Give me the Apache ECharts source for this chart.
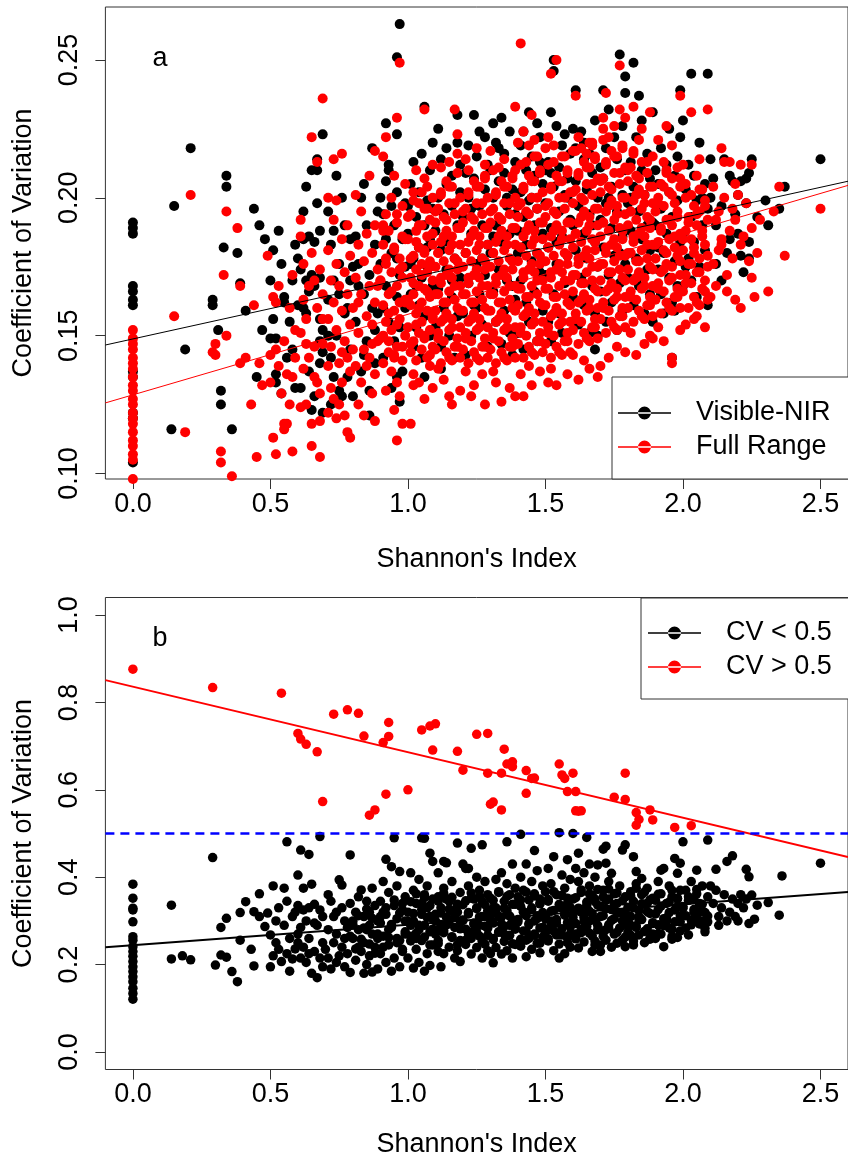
<!DOCTYPE html>
<html><head><meta charset="utf-8">
<script src="https://cdn.jsdelivr.net/npm/echarts@6/dist/echarts.min.js"></script>
<style>html,body{margin:0;padding:0;background:#fff}#c{width:848px;height:1162px}</style>
</head><body><div id="c"></div>
<script>
// ---------- tick labels ----------
const xTicks = [0, 0.5, 1.0, 1.5, 2.0, 2.5];
const yTicksA = [0.10, 0.15, 0.20, 0.25];
const yTicksB = [0.0, 0.2, 0.4, 0.6, 0.8, 1.0];
const legendA = ['Visible-NIR', 'Full Range'];
const legendB = ['CV < 0.5', 'CV > 0.5'];

// ---------- panel a : Visible-NIR (black) [Shannon, CV] ----------
const vnirA = [
[0,.191],[0,.189],[0,.187],[0,.168],[0,.166],[0,.163],[0,.161],[0,.137],[0,.135],[0,.122],[0,.12],[0,.104],
[.15,.197],[.21,.218],[.14,.116],[.19,.145],[.34,.208],[.34,.204],[.33,.182],[.38,.18],[.51,.181],[.39,.169],[.29,.163],[.29,.161],[.41,.159],[.5,.17],[.31,.152],[.47,.152],[.32,.13],[.32,.125],[.45,.135],[.36,.116],[.46,.19],[.48,.185],[.44,.196],
[.52,.136],[.52,.133],[.54,.129],[.59,.131],[.55,.162],[.55,.164],[.5,.149],[.52,.149],[.57,.155],[.58,.17],[.54,.176],[.59,.183],[.56,.142],[.51,.156],[.53,.188],[.58,.145],
[.65,.123],[.69,.122],[.6,.178],[.61,.174],[.63,.17],[.64,.166],[.65,.172],[.66,.168],[.68,.171],[.62,.16],[.63,.158],[.6,.161],[.68,.156],[.69,.152],[.68,.148],[.69,.144],[.68,.14],[.67,.21],[.65,.21],[.63,.204],[.69,.223],[.67,.214],[.62,.185],[.64,.186],[.66,.184],[.68,.188],[.64,.137],[.61,.131],[.66,.128],[.67,.198],[.62,.195],
[.74,.208],[.76,.2],[.73,.188],[.72,.183],[.75,.176],[.79,.17],[.71,.163],[.77,.158],[.74,.15],[.72,.142],[.78,.135],[.76,.128],[.73,.135],[.79,.185],[.71,.195],[.77,.19],[.75,.165],[.79,.145],[.71,.15],[.73,.17],[.78,.16],[.75,.13],[.72,.125],
[.87,.218],[.83,.2],[.85,.19],[.81,.186],[.88,.183],[.82,.176],[.86,.172],[.84,.165],[.89,.158],[.81,.155],[.85,.148],[.88,.14],[.83,.137],[.86,.13],[.8,.128],[.89,.195],[.84,.205],[.82,.168],[.87,.16],[.8,.175],[.88,.152],[.84,.143],[.86,.121],
[.97,.263],[.96,.251],[.92,.227],[.96,.223],[.93,.212],[.93,.21],[.96,.202],[.92,.206],[.99,.198],[.91,.194],[.95,.19],[.98,.185],[.94,.18],[.9,.176],[.97,.172],[.92,.168],[.96,.164],[.99,.16],[.93,.155],[.95,.148],[.91,.142],[.98,.137],[.94,.131],[.97,.126],[.92,.185],[.99,.175],[.9,.2],[.96,.178],[.91,.16],[.97,.153],[.94,.197],[.96,.135],
[1.06,.233],[1.05,.216],[1.02,.213],[1.08,.21],[1.01,.205],[1.04,.202],[1.07,.199],[1.09,.196],[1.03,.193],[1.06,.19],[1.0,.187],[1.08,.185],[1.04,.182],[1.02,.178],[1.07,.175],[1.05,.171],[1.09,.168],[1.01,.165],[1.04,.161],[1.06,.157],[1.03,.153],[1.08,.15],[1.02,.146],[1.05,.142],[1.09,.22],[1.0,.197],[1.07,.182],[1.03,.168],[1.06,.135],[1.01,.176],
[1.18,.23],[1.18,.22],[1.16,.208],[1.12,.214],[1.14,.205],[1.19,.202],[1.11,.2],[1.16,.197],[1.13,.194],[1.18,.19],[1.1,.188],[1.15,.185],[1.12,.181],[1.17,.178],[1.14,.174],[1.19,.171],[1.11,.167],[1.16,.164],[1.13,.16],[1.18,.157],[1.1,.153],[1.15,.15],[1.12,.146],[1.17,.142],[1.14,.218],[1.11,.225],[1.19,.212],[1.13,.184],[1.16,.17],[1.12,.138],
[1.24,.23],[1.31,.227],[1.28,.222],[1.22,.219],[1.25,.215],[1.29,.212],[1.21,.209],[1.24,.207],[1.28,.203],[1.22,.2],[1.26,.197],[1.2,.193],[1.27,.19],[1.23,.187],[1.29,.183],[1.21,.18],[1.25,.176],[1.28,.172],[1.22,.169],[1.26,.165],[1.24,.161],[1.2,.158],[1.27,.154],[1.23,.15],[1.29,.146],[1.21,.143],[1.26,.224],[1.23,.196],[1.27,.178],[1.25,.16],
[1.34,.229],[1.37,.224],[1.32,.22],[1.35,.216],[1.39,.213],[1.3,.21],[1.35,.209],[1.33,.206],[1.38,.203],[1.31,.2],[1.36,.197],[1.39,.194],[1.32,.19],[1.37,.187],[1.34,.184],[1.3,.18],[1.38,.177],[1.33,.174],[1.36,.17],[1.31,.166],[1.39,.163],[1.35,.159],[1.32,.155],[1.37,.151],[1.34,.147],[1.38,.143],[1.33,.218],[1.36,.2],[1.31,.186],[1.38,.168],
[1.44,.231],[1.42,.224],[1.47,.227],[1.41,.219],[1.45,.215],[1.48,.213],[1.43,.21],[1.46,.208],[1.49,.205],[1.41,.202],[1.44,.199],[1.47,.196],[1.42,.193],[1.46,.19],[1.49,.187],[1.43,.183],[1.4,.18],[1.45,.177],[1.48,.173],[1.41,.17],[1.46,.166],[1.43,.162],[1.49,.159],[1.44,.155],[1.4,.151],[1.47,.148],[1.42,.145],[1.48,.222],[1.45,.2],[1.4,.188],[1.47,.18],
[1.53,.25],[1.53,.246],[1.61,.239],[1.52,.231],[1.54,.226],[1.57,.223],[1.5,.21],[1.52,.209],[1.56,.219],[1.59,.216],[1.51,.213],[1.55,.211],[1.58,.207],[1.53,.204],[1.57,.201],[1.5,.198],[1.55,.195],[1.59,.192],[1.52,.189],[1.56,.186],[1.51,.182],[1.58,.179],[1.54,.176],[1.5,.172],[1.57,.169],[1.53,.165],[1.59,.162],[1.55,.158],[1.51,.155],[1.56,.151],[1.52,.148],[1.58,.2],[1.54,.184],[1.6,.225],
[1.64,.22],[1.66,.216],[1.64,.214],[1.7,.211],[1.68,.228],[1.63,.224],[1.67,.209],[1.61,.206],[1.65,.203],[1.69,.2],[1.62,.197],[1.66,.194],[1.6,.19],[1.64,.187],[1.68,.184],[1.61,.181],[1.65,.178],[1.69,.175],[1.63,.171],[1.67,.168],[1.6,.164],[1.64,.161],[1.68,.158],[1.62,.154],[1.66,.151],[1.68,.145],[1.69,.15],[1.61,.218],[1.67,.19],
[1.77,.252],[1.79,.244],[1.71,.239],[1.79,.238],[1.73,.232],[1.78,.226],[1.75,.222],[1.72,.218],[1.76,.214],[1.79,.21],[1.71,.207],[1.74,.204],[1.78,.201],[1.72,.198],[1.76,.195],[1.7,.192],[1.74,.189],[1.78,.186],[1.71,.182],[1.75,.179],[1.79,.176],[1.73,.172],[1.77,.169],[1.7,.166],[1.74,.162],[1.78,.159],[1.72,.155],[1.76,.152],[1.73,.2],[1.77,.18],
[1.82,.249],[1.84,.237],[1.89,.231],[1.85,.228],[1.83,.222],[1.87,.216],[1.81,.213],[1.85,.21],[1.88,.207],[1.82,.204],[1.86,.201],[1.8,.198],[1.84,.195],[1.89,.191],[1.81,.188],[1.85,.185],[1.88,.181],[1.83,.178],[1.87,.174],[1.8,.171],[1.84,.168],[1.88,.165],[1.82,.161],[1.86,.158],[1.89,.155],[1.81,.2],[1.87,.19],[1.83,.17],
[1.99,.239],[1.95,.225],[1.99,.222],[1.92,.218],[1.9,.21],[1.94,.212],[1.97,.208],[1.91,.205],[1.95,.202],[1.98,.199],[1.92,.196],[1.96,.193],[1.9,.19],[1.94,.187],[1.99,.184],[1.93,.18],[1.97,.177],[1.91,.174],[1.95,.171],[1.98,.168],[1.92,.165],[1.96,.162],[1.97,.159],[1.96,.142],[1.93,.158],[1.98,.215],[1.91,.182],
[2.03,.245],[2.09,.245],[2.0,.228],[2.06,.22],[2.02,.212],[2.08,.205],[2.04,.208],[2.01,.203],[2.05,.199],[2.09,.196],[2.03,.193],[2.07,.19],[2.0,.187],[2.04,.184],[2.08,.181],[2.02,.178],[2.06,.175],[2.03,.17],[2.0,.168],[2.05,.164],[2.09,.161],[2.01,.175],[2.07,.2],
[2.1,.214],[2.15,.214],[2.25,.214],[2.17,.208],[2.18,.206],[2.21,.206],[2.23,.207],[2.24,.209],[2.1,.2],[2.14,.197],[2.2,.201],[2.23,.198],[2.37,.204],[2.35,.196],[2.31,.19],[2.5,.214],[2.2,.187],[2.17,.185],[2.24,.184],[2.12,.19],[2.27,.193],[2.3,.199],[2.21,.179],[2.24,.178],[2.14,.17],[2.12,.176],[2.16,.18],[2.11,.207],[2.19,.194],[2.22,.173]
];

// ---------- panel a : Full Range (red) ----------
const fullA = [
[0,.152],[0,.149],[0,.147],[0,.145],[0,.142],[0,.14],[0,.138],[0,.135],[0,.132],[0,.13],[0,.127],[0,.125],[0,.122],[0,.12],[0,.118],[0,.115],[0,.112],[0,.11],[0,.107],[0,.105],[0,.098],
[.15,.157],[.19,.115],[.21,.201],[.33,.172],[.34,.195],[.34,.15],[.3,.147],[.29,.144],[.3,.143],[.32,.108],[.32,.104],[.36,.099],[.38,.189],[.39,.168],[.39,.14],[.41,.142],[.44,.161],[.43,.125],[.45,.106],[.46,.14],[.47,.132],[.49,.179],[.5,.143],[.5,.133],
[.51,.113],[.55,.116],[.55,.118],[.56,.118],[.52,.107],[.58,.108],[.54,.129],[.56,.136],[.58,.135],[.59,.152],[.52,.145],[.57,.16],[.53,.168],[.58,.172],[.55,.148],[.51,.164],[.52,.162],[.59,.142],[.57,.125],[.53,.139],
[.61,.124],[.63,.125],[.65,.118],[.68,.119],[.65,.11],[.68,.106],[.61,.151],[.62,.138],[.64,.142],[.66,.146],[.69,.147],[.67,.133],[.66,.135],[.63,.156],[.67,.16],[.69,.165],[.66,.17],[.68,.174],[.64,.168],[.62,.176],[.61,.192],[.61,.186],[.65,.222],[.67,.213],[.69,.236],[.65,.18],[.69,.156],[.63,.147],[.68,.129],[.62,.163],
[.73,.127],[.75,.125],[.74,.12],[.72,.131],[.76,.133],[.78,.115],[.79,.113],[.71,.139],[.75,.14],[.78,.142],[.72,.146],[.77,.148],[.74,.152],[.79,.154],[.71,.156],[.76,.159],[.73,.162],[.78,.165],[.75,.168],[.72,.17],[.77,.173],[.74,.176],[.79,.179],[.71,.181],[.76,.185],[.74,.199],[.71,.2],[.73,.214],[.76,.216],[.78,.19],[.73,.192],[.77,.121],[.71,.122],[.79,.137],[.76,.144],
[.84,.121],[.88,.119],[.82,.125],[.87,.129],[.83,.133],[.88,.136],[.81,.139],[.86,.142],[.84,.145],[.89,.148],[.82,.151],[.87,.154],[.85,.157],[.8,.16],[.88,.162],[.83,.165],[.86,.168],[.81,.171],[.89,.174],[.84,.177],[.87,.18],[.82,.183],[.85,.187],[.88,.19],[.83,.195],[.88,.217],[.86,.208],[.81,.201],[.89,.168],[.8,.145],[.85,.139],[.82,.162],[.87,.147],
[.96,.112],[.98,.118],[.95,.123],[.97,.128],[.96,.133],[.92,.13],[.94,.137],[.91,.14],[.98,.141],[.93,.144],[.96,.146],[.9,.149],[.99,.15],[.94,.152],[.92,.155],[.97,.156],[.95,.159],[.91,.161],[.99,.163],[.93,.165],[.96,.168],[.9,.17],[.98,.171],[.94,.173],[.92,.176],[.97,.178],[.95,.181],[.91,.183],[.99,.185],[.93,.188],[.96,.191],[.92,.194],[.98,.197],[.94,.2],[.92,.222],[.96,.229],[.97,.249],[.95,.208],[.99,.205],[.91,.215],[.97,.162],[.93,.148],[.95,.143],[.98,.175],[.91,.188],
[.95,.142],[.98,.146],[.91,.15],[.96,.154],[.93,.158],[.99,.162],[.94,.166],[.9,.17],[.97,.174],[.92,.178],[.95,.182],[.98,.186],[.91,.19],[.96,.194],
[1.02,.136],[1.04,.133],[1.02,.132],[1.08,.139],[1.01,.118],[1.06,.127],[1.09,.131],
[1.03,.141],[1.07,.142],[1.01,.144],[1.05,.145],[1.09,.146],[1.02,.148],[1.06,.149],[1.04,.151],[1.08,.152],[1.0,.153],[1.05,.155],[1.09,.156],[1.03,.158],[1.07,.159],[1.01,.161],[1.05,.162],[1.08,.164],[1.02,.165],[1.06,.167],[1.04,.168],[1.09,.17],[1.01,.171],[1.07,.173],[1.03,.174],[1.05,.176],[1.08,.177],[1.02,.179],[1.06,.18],[1.04,.182],[1.09,.183],[1.0,.185],[1.07,.186],[1.03,.188],[1.05,.19],[1.08,.192],[1.01,.194],[1.06,.196],[1.04,.198],[1.09,.2],[1.02,.202],[1.07,.204],
[1.08,.143],[1.01,.147],[1.06,.15],[1.03,.154],[1.09,.157],[1.04,.16],[1.0,.163],[1.07,.166],[1.02,.169],[1.05,.172],[1.08,.175],[1.01,.178],[1.06,.181],[1.03,.184],[1.09,.187],[1.04,.19],[1.0,.193],[1.07,.196],[1.02,.199],[1.05,.202],
[1.06,.232],[1.06,.207],[1.09,.212],[1.03,.21],
[1.15,.128],[1.16,.125],[1.19,.13],[1.11,.138],[1.13,.134],
[1.12,.14],[1.16,.141],[1.19,.142],[1.14,.144],[1.1,.145],[1.17,.146],[1.13,.148],[1.18,.149],[1.11,.151],[1.15,.152],[1.19,.153],[1.12,.155],[1.16,.156],[1.14,.158],[1.1,.159],[1.18,.16],[1.13,.162],[1.17,.163],[1.11,.165],[1.15,.166],[1.19,.168],[1.12,.169],[1.16,.171],[1.14,.172],[1.18,.174],[1.1,.175],[1.13,.177],[1.17,.178],[1.11,.18],[1.15,.181],[1.19,.183],[1.12,.184],[1.16,.186],[1.14,.188],[1.18,.189],[1.1,.191],[1.13,.193],[1.17,.194],[1.11,.196],[1.15,.198],[1.19,.2],[1.12,.202],[1.16,.204],[1.14,.206],
[1.15,.142],[1.18,.146],[1.11,.149],[1.16,.153],[1.13,.156],[1.19,.159],[1.14,.162],[1.1,.165],[1.17,.168],[1.12,.171],[1.15,.174],[1.18,.177],[1.11,.18],[1.16,.183],[1.13,.186],[1.19,.189],[1.14,.192],[1.1,.195],[1.17,.198],[1.12,.201],[1.15,.204],
[1.12,.211],[1.17,.232],[1.18,.223],[1.18,.209],[1.18,.216],[1.15,.213],
[1.24,.132],[1.28,.125],[1.23,.128],[1.27,.136],[1.21,.137],
[1.22,.14],[1.26,.141],[1.29,.142],[1.24,.144],[1.2,.145],[1.27,.146],[1.23,.148],[1.28,.149],[1.21,.151],[1.25,.152],[1.29,.153],[1.22,.155],[1.26,.156],[1.24,.158],[1.2,.159],[1.28,.16],[1.23,.162],[1.27,.163],[1.21,.165],[1.25,.166],[1.29,.168],[1.22,.169],[1.26,.171],[1.24,.172],[1.28,.174],[1.2,.175],[1.23,.177],[1.27,.178],[1.21,.18],[1.25,.181],[1.29,.183],[1.22,.184],[1.26,.186],[1.24,.188],[1.28,.189],[1.2,.191],[1.23,.193],[1.27,.194],[1.21,.196],[1.25,.198],[1.29,.2],[1.22,.202],[1.26,.204],[1.24,.206],[1.28,.208],
[1.25,.142],[1.28,.146],[1.21,.149],[1.26,.153],[1.23,.156],[1.29,.159],[1.24,.162],[1.2,.165],[1.27,.168],[1.22,.171],[1.25,.174],[1.28,.177],[1.21,.18],[1.26,.183],[1.23,.186],[1.29,.189],[1.24,.192],[1.2,.195],[1.27,.198],[1.22,.201],[1.25,.204],[1.28,.207],
[1.21,.214],[1.25,.218],[1.28,.212],[1.22,.21],[1.3,.217],
[1.34,.126],[1.32,.133],[1.37,.131],[1.39,.128],[1.31,.137],
[1.32,.14],[1.36,.141],[1.39,.142],[1.34,.144],[1.3,.145],[1.37,.146],[1.33,.148],[1.38,.149],[1.31,.151],[1.35,.152],[1.39,.153],[1.32,.155],[1.36,.156],[1.34,.158],[1.3,.159],[1.38,.16],[1.33,.162],[1.37,.163],[1.31,.165],[1.35,.166],[1.39,.168],[1.32,.169],[1.36,.171],[1.34,.172],[1.38,.174],[1.3,.175],[1.33,.177],[1.37,.178],[1.31,.18],[1.35,.181],[1.39,.183],[1.32,.184],[1.36,.186],[1.34,.188],[1.38,.189],[1.3,.191],[1.33,.193],[1.37,.194],[1.31,.196],[1.35,.198],[1.39,.2],[1.32,.202],[1.36,.204],[1.34,.206],[1.38,.208],[1.33,.211],
[1.35,.142],[1.38,.146],[1.31,.149],[1.36,.153],[1.33,.156],[1.39,.159],[1.34,.162],[1.3,.165],[1.37,.168],[1.32,.171],[1.35,.174],[1.38,.177],[1.31,.18],[1.36,.183],[1.33,.186],[1.39,.189],[1.34,.192],[1.3,.195],[1.37,.198],[1.32,.201],[1.35,.204],[1.38,.207],[1.31,.21],
[1.39,.233],[1.39,.21],[1.35,.214],
[1.42,.128],[1.41,.136],[1.45,.132],[1.48,.137],[1.44,.139],
[1.42,.142],[1.46,.143],[1.49,.144],[1.44,.146],[1.4,.147],[1.47,.148],[1.43,.15],[1.48,.151],[1.41,.153],[1.45,.154],[1.49,.155],[1.42,.157],[1.46,.158],[1.44,.16],[1.4,.161],[1.48,.162],[1.43,.164],[1.47,.165],[1.41,.167],[1.45,.168],[1.49,.17],[1.42,.171],[1.46,.173],[1.44,.174],[1.48,.176],[1.4,.177],[1.43,.179],[1.47,.18],[1.41,.182],[1.45,.183],[1.49,.185],[1.42,.186],[1.46,.188],[1.44,.19],[1.48,.191],[1.4,.193],[1.43,.195],[1.47,.196],[1.41,.198],[1.45,.2],[1.49,.202],[1.42,.204],[1.46,.206],[1.44,.208],[1.48,.21],[1.43,.213],[1.47,.215],
[1.45,.144],[1.48,.148],[1.41,.151],[1.46,.155],[1.43,.158],[1.49,.161],[1.44,.164],[1.4,.167],[1.47,.17],[1.42,.173],[1.45,.176],[1.48,.179],[1.41,.182],[1.46,.185],[1.43,.188],[1.49,.191],[1.44,.194],[1.4,.197],[1.47,.2],[1.42,.203],[1.45,.206],[1.48,.209],[1.41,.212],[1.46,.215],
[1.41,.256],[1.45,.23],[1.4,.22],[1.42,.224],[1.44,.219],[1.46,.221],
[1.51,.133],[1.54,.132],[1.58,.136],[1.52,.138],
[1.52,.142],[1.56,.143],[1.59,.144],[1.54,.146],[1.5,.147],[1.57,.148],[1.53,.15],[1.58,.151],[1.51,.153],[1.55,.154],[1.59,.155],[1.52,.157],[1.56,.158],[1.54,.16],[1.5,.161],[1.58,.162],[1.53,.164],[1.57,.165],[1.51,.167],[1.55,.168],[1.59,.17],[1.52,.171],[1.56,.173],[1.54,.174],[1.58,.176],[1.5,.177],[1.53,.179],[1.57,.18],[1.51,.182],[1.55,.183],[1.59,.185],[1.52,.186],[1.56,.188],[1.54,.19],[1.58,.191],[1.5,.193],[1.53,.195],[1.57,.196],[1.51,.198],[1.55,.2],[1.59,.202],[1.52,.204],[1.56,.206],[1.54,.208],[1.58,.21],[1.53,.213],[1.57,.215],
[1.55,.144],[1.58,.148],[1.51,.151],[1.56,.155],[1.53,.158],[1.59,.161],[1.54,.164],[1.5,.167],[1.57,.17],[1.52,.173],[1.55,.176],[1.58,.179],[1.51,.182],[1.56,.185],[1.53,.188],[1.59,.191],[1.54,.194],[1.5,.197],[1.57,.2],[1.52,.203],[1.55,.206],[1.58,.209],[1.51,.212],[1.56,.215],
[1.54,.25],[1.52,.245],[1.5,.218],[1.51,.222],[1.53,.219],[1.61,.237],[1.6,.217],
[1.62,.134],[1.66,.138],[1.69,.135],[1.64,.141],[1.6,.143],
[1.62,.147],[1.66,.148],[1.69,.149],[1.64,.151],[1.6,.152],[1.67,.153],[1.63,.155],[1.68,.156],[1.61,.158],[1.65,.159],[1.69,.16],[1.62,.162],[1.66,.163],[1.64,.165],[1.6,.166],[1.68,.167],[1.63,.169],[1.67,.17],[1.61,.172],[1.65,.173],[1.69,.175],[1.62,.176],[1.66,.178],[1.64,.179],[1.68,.181],[1.6,.182],[1.63,.184],[1.67,.185],[1.61,.187],[1.65,.188],[1.69,.19],[1.62,.191],[1.66,.193],[1.64,.195],[1.68,.196],[1.6,.198],[1.63,.2],[1.67,.201],[1.61,.203],[1.65,.205],[1.69,.207],[1.62,.209],[1.66,.211],[1.64,.213],[1.68,.215],[1.63,.218],[1.67,.22],
[1.65,.149],[1.68,.153],[1.61,.156],[1.66,.16],[1.63,.163],[1.69,.166],[1.64,.169],[1.6,.172],[1.67,.175],[1.62,.178],[1.65,.181],[1.68,.184],[1.61,.187],[1.66,.19],[1.63,.193],[1.69,.196],[1.64,.199],[1.6,.202],[1.67,.205],[1.62,.208],[1.65,.211],[1.68,.214],[1.61,.217],[1.66,.22],
[1.62,.222],[1.65,.216],[1.67,.219],[1.71,.229],[1.71,.225],[1.72,.238],
[1.7,.139],[1.73,.142],[1.76,.146],[1.79,.144],
[1.72,.151],[1.76,.152],[1.79,.153],[1.74,.155],[1.7,.156],[1.77,.157],[1.73,.159],[1.78,.16],[1.71,.162],[1.75,.163],[1.79,.164],[1.72,.166],[1.76,.167],[1.74,.169],[1.7,.17],[1.78,.171],[1.73,.173],[1.77,.174],[1.71,.176],[1.75,.177],[1.79,.179],[1.72,.18],[1.76,.182],[1.74,.183],[1.78,.185],[1.7,.186],[1.73,.188],[1.77,.189],[1.71,.191],[1.75,.192],[1.79,.194],[1.72,.195],[1.76,.197],[1.74,.199],[1.78,.2],[1.7,.202],[1.73,.204],[1.77,.205],[1.71,.207],[1.75,.209],[1.79,.211],[1.72,.213],[1.76,.215],[1.74,.217],[1.78,.219],[1.73,.222],
[1.75,.153],[1.78,.157],[1.71,.16],[1.76,.164],[1.73,.167],[1.79,.17],[1.74,.173],[1.7,.176],[1.77,.179],[1.72,.182],[1.75,.185],[1.78,.188],[1.71,.191],[1.76,.194],[1.73,.197],[1.79,.2],[1.74,.203],[1.7,.206],[1.77,.209],[1.72,.212],[1.75,.215],[1.78,.218],[1.71,.221],
[1.77,.248],[1.77,.232],[1.79,.229],[1.75,.226],
[1.83,.143],[1.86,.147],[1.89,.149],[1.88,.15],[1.81,.151],
[1.82,.155],[1.86,.156],[1.89,.157],[1.84,.159],[1.8,.16],[1.87,.161],[1.83,.163],[1.88,.164],[1.81,.166],[1.85,.167],[1.89,.168],[1.82,.17],[1.86,.171],[1.84,.173],[1.8,.174],[1.88,.175],[1.83,.177],[1.87,.178],[1.81,.18],[1.85,.181],[1.89,.183],[1.82,.184],[1.86,.186],[1.84,.187],[1.88,.189],[1.8,.19],[1.83,.192],[1.87,.193],[1.81,.195],[1.85,.196],[1.89,.198],[1.82,.199],[1.86,.201],[1.84,.203],[1.88,.204],[1.8,.206],[1.83,.208],[1.87,.209],[1.81,.211],[1.85,.213],[1.89,.215],[1.82,.217],
[1.85,.157],[1.88,.161],[1.81,.164],[1.86,.168],[1.83,.171],[1.89,.174],[1.84,.177],[1.8,.18],[1.87,.183],[1.82,.186],[1.85,.189],[1.88,.192],[1.81,.195],[1.86,.198],[1.83,.201],[1.89,.204],[1.84,.207],[1.8,.21],[1.87,.213],[1.82,.216],
[1.82,.233],[1.88,.231],[1.85,.225],[1.84,.221],
[1.96,.14],[1.96,.142],[1.93,.148],[1.99,.152],[1.91,.153],
[1.92,.158],[1.96,.159],[1.99,.16],[1.94,.162],[1.9,.163],[1.97,.164],[1.93,.166],[1.98,.167],[1.91,.169],[1.95,.17],[1.99,.172],[1.92,.173],[1.96,.175],[1.94,.176],[1.9,.178],[1.98,.179],[1.93,.181],[1.97,.182],[1.91,.184],[1.95,.185],[1.99,.187],[1.92,.188],[1.96,.19],[1.94,.192],[1.98,.193],[1.9,.195],[1.93,.197],[1.97,.198],[1.91,.2],[1.95,.202],[1.99,.204],[1.92,.205],[1.96,.207],[1.94,.209],[1.98,.211],[1.93,.213],
[1.95,.16],[1.98,.164],[1.91,.167],[1.96,.171],[1.93,.174],[1.99,.177],[1.94,.18],[1.9,.183],[1.97,.186],[1.92,.189],[1.95,.192],[1.98,.195],[1.91,.198],[1.96,.201],[1.93,.204],[1.99,.207],[1.94,.21],
[1.94,.226],[1.99,.237],[1.96,.219],[1.91,.221],
[2.01,.154],[2.04,.156],[2.08,.153],[2.05,.157],
[2.02,.16],[2.06,.161],[2.09,.163],[2.04,.164],[2.0,.166],[2.07,.167],[2.03,.169],[2.08,.17],[2.01,.172],[2.05,.173],[2.09,.175],[2.02,.176],[2.06,.178],[2.04,.18],[2.0,.181],[2.08,.183],[2.03,.185],[2.07,.186],[2.01,.188],[2.05,.19],[2.09,.192],[2.02,.193],[2.06,.195],[2.04,.197],[2.08,.199],[2.03,.201],[2.07,.203],[2.01,.205],[2.05,.208],
[2.05,.162],[2.08,.166],[2.01,.169],[2.06,.173],[2.03,.176],[2.09,.179],[2.04,.182],[2.0,.185],[2.07,.188],[2.02,.191],[2.05,.194],[2.08,.197],[2.01,.2],[2.06,.203],
[2.03,.231],[2.09,.232],[2.06,.214],[2.0,.212],
[2.14,.218],[2.15,.213],[2.17,.213],[2.14,.185],[2.14,.183],[2.19,.163],[2.21,.16],[2.12,.168],[2.16,.172],[2.11,.176],[2.18,.178],[2.13,.181],[2.17,.188],[2.12,.192],[2.18,.196],[2.15,.2],[2.11,.204],[2.19,.192],[2.16,.166],[2.13,.195],[2.19,.205],[2.1,.164],
[2.21,.212],[2.25,.212],[2.24,.177],[2.27,.18],[2.25,.171],[2.26,.164],[2.22,.186],[2.25,.189],[2.21,.183],[2.23,.198],[2.28,.192],[2.2,.201],
[2.31,.166],[2.37,.179],[2.35,.204],[2.33,.195],[2.5,.196]
];

// ---------- panel a : fitted lines (end points at the axis limits) ----------
const fitVnirA = [[-0.1, 0.1466], [2.6, 0.2060]];
const fitFullA = [[-0.1, 0.1256], [2.6, 0.2045]];

// ---------- panel b : CV < 0.5 (black) ----------
const cvLow = [
[0,.384],[0,.352],[0,.329],[0,.325],[0,.298],[0,.264],[0,.256],[0,.241],[0,.23],[0,.219],[0,.207],[0,.195],[0,.184],[0,.172],[0,.161],[0,.146],[0,.134],[0,.121],
[.14,.336],[.14,.213],[.18,.22],[.21,.211],[.29,.445],[.32,.285],[.34,.306],[.3,.199],[.32,.222],[.34,.217],[.36,.184],[.38,.161],[.39,.319],[.41,.344],[.39,.256],[.43,.235],[.44,.197],[.44,.321],[.46,.31],[.46,.362],[.48,.287],[.49,.318],[.5,.268],
[.51,.38],[.55,.375],[.56,.481],[.6,.405],[.52,.25],[.53,.235],[.51,.22],[.54,.207],[.56,.225],[.58,.213],[.59,.236],[.57,.26],[.55,.29],[.58,.31],[.53,.33],[.56,.345],[.59,.32],[.52,.3],[.5,.195],[.57,.185],[.6,.27],
[.61,.462],[.64,.452],[.62,.375],[.65,.384],[.68,.493],[.6,.335],[.62,.325],[.64,.33],[.66,.338],[.68,.325],[.69,.31],[.63,.3],[.66,.295],[.61,.285],[.67,.29],[.64,.26],[.62,.24],[.66,.23],[.68,.215],[.63,.205],[.69,.195],[.65,.18],[.67,.17],[.61,.215],[.69,.25],[.64,.225],[.6,.25],
[.75,.394],[.76,.382],[.79,.451],[.72,.345],[.74,.32],[.77,.3],[.71,.28],[.79,.265],[.73,.25],[.76,.24],[.78,.225],[.71,.215],[.74,.205],[.77,.195],[.72,.19],[.79,.182],[.75,.22],[.7,.235],[.78,.285],[.73,.31],[.76,.33],[.71,.36],[.79,.34],[.74,.27],[.77,.26],
[.83,.371],[.87,.375],[.82,.355],[.85,.345],[.88,.335],[.81,.32],[.84,.31],[.89,.3],[.86,.29],[.82,.28],[.87,.27],[.8,.26],[.84,.25],[.88,.24],[.83,.23],[.86,.22],[.81,.21],[.85,.2],[.89,.19],[.87,.183],[.84,.18],[.8,.3],[.86,.32],[.89,.26],[.82,.24],[.85,.28],
[.88,.226],[.81,.236],[.86,.247],[.83,.258],[.89,.27],[.84,.284],[.8,.291],[.87,.306],[.82,.312],[.85,.327],
[.95,.49],[.92,.441],[.94,.424],[.97,.413],[.91,.39],[.96,.38],[.93,.365],[.99,.355],[.9,.345],[.95,.335],[.98,.325],[.92,.315],[.96,.305],[.9,.295],[.94,.285],[.99,.275],[.91,.265],[.97,.255],[.93,.245],[.98,.235],[.9,.225],[.95,.215],[.92,.205],[.97,.195],[.94,.185],[.99,.3],[.91,.32],[.96,.26],[.93,.28],[.98,.34],
[.98,.23],[.91,.24],[.96,.25],[.93,.262],[.99,.27],[.94,.292],[.9,.31],[.97,.318],[.92,.33],[.95,.348],
[1.05,.49],[1.06,.489],[1.08,.455],[1.09,.436],[1.01,.41],[1.04,.395],[1.07,.38],[1.02,.37],[1.06,.36],[1.09,.35],[1.03,.34],[1.07,.33],[1.0,.32],[1.05,.315],[1.09,.305],[1.02,.3],[1.06,.29],[1.04,.28],[1.08,.275],[1.01,.265],[1.05,.255],[1.09,.245],[1.03,.235],[1.07,.225],[1.0,.215],[1.04,.205],[1.08,.198],[1.06,.185],[1.02,.192],[1.08,.31],[1.01,.29],[1.05,.34],[1.03,.26],
[1.08,.245],[1.01,.254],[1.06,.263],[1.03,.272],[1.09,.281],[1.04,.29],[1.0,.299],[1.07,.308],[1.02,.317],[1.05,.326],[1.08,.335],[1.01,.344],[1.06,.353],[1.03,.362],
[1.13,.436],[1.14,.433],[1.18,.478],[1.12,.195],[1.19,.207],[1.2,.43],[1.11,.41],[1.16,.39],[1.13,.375],[1.19,.365],[1.11,.355],[1.15,.345],[1.18,.338],[1.12,.33],[1.16,.322],[1.1,.315],[1.14,.308],[1.19,.3],[1.12,.292],[1.17,.285],[1.13,.278],[1.1,.27],[1.16,.262],[1.19,.255],[1.11,.248],[1.15,.24],[1.18,.232],[1.13,.225],[1.17,.215],[1.11,.23],[1.15,.3],[1.18,.32],[1.14,.35],[1.11,.28],
[1.18,.246],[1.11,.255],[1.16,.264],[1.13,.273],[1.19,.282],[1.14,.291],[1.1,.3],[1.17,.309],[1.12,.318],[1.15,.327],[1.18,.336],[1.11,.345],[1.16,.354],[1.13,.363],
[1.23,.466],[1.27,.474],[1.22,.42],[1.21,.42],[1.25,.4],[1.28,.39],[1.22,.38],[1.26,.37],[1.29,.36],[1.23,.352],[1.27,.344],[1.2,.337],[1.25,.33],[1.29,.323],[1.22,.316],[1.26,.309],[1.2,.302],[1.24,.295],[1.28,.288],[1.21,.281],[1.25,.274],[1.29,.267],[1.23,.26],[1.27,.253],[1.21,.246],[1.25,.239],[1.29,.232],[1.23,.224],[1.27,.215],[1.26,.29],[1.22,.27],[1.28,.31],[1.24,.35],
[1.28,.247],[1.21,.256],[1.26,.265],[1.23,.274],[1.29,.283],[1.24,.292],[1.2,.301],[1.27,.31],[1.22,.319],[1.25,.328],[1.28,.337],[1.21,.346],[1.26,.355],[1.23,.364],
[1.36,.481],[1.34,.41],[1.38,.43],[1.31,.204],[1.32,.395],[1.36,.385],[1.39,.375],[1.33,.367],[1.37,.36],[1.3,.352],[1.35,.345],[1.39,.338],[1.32,.33],[1.36,.323],[1.3,.316],[1.34,.309],[1.38,.302],[1.31,.295],[1.35,.288],[1.39,.281],[1.33,.274],[1.37,.267],[1.31,.26],[1.35,.253],[1.39,.246],[1.32,.239],[1.36,.232],[1.34,.224],[1.38,.215],[1.3,.225],[1.37,.29],[1.33,.31],[1.35,.27],[1.31,.33],
[1.38,.248],[1.31,.257],[1.36,.266],[1.33,.275],[1.39,.284],[1.34,.293],[1.3,.302],[1.37,.311],[1.32,.32],[1.35,.329],[1.38,.338],[1.31,.347],[1.36,.356],[1.33,.365],
[1.41,.498],[1.46,.461],[1.43,.43],[1.47,.415],[1.41,.4],[1.45,.39],[1.49,.38],[1.42,.37],[1.46,.362],[1.4,.355],[1.44,.348],[1.48,.34],[1.41,.333],[1.45,.326],[1.49,.319],[1.43,.312],[1.47,.305],[1.4,.298],[1.44,.291],[1.48,.284],[1.42,.277],[1.46,.27],[1.49,.263],[1.43,.256],[1.47,.249],[1.41,.242],[1.45,.235],[1.48,.227],[1.43,.218],[1.46,.3],[1.42,.32],[1.44,.26],[1.48,.35],
[1.48,.249],[1.41,.258],[1.46,.267],[1.43,.276],[1.49,.285],[1.44,.294],[1.4,.303],[1.47,.312],[1.42,.321],[1.45,.33],[1.48,.339],[1.41,.348],[1.46,.357],[1.43,.366],
[1.55,.502],[1.6,.5],[1.53,.447],[1.58,.44],[1.51,.42],[1.56,.405],[1.59,.395],[1.52,.385],[1.57,.375],[1.5,.367],[1.54,.36],[1.58,.352],[1.51,.345],[1.55,.338],[1.59,.331],[1.53,.324],[1.57,.317],[1.5,.31],[1.54,.303],[1.58,.296],[1.52,.289],[1.56,.282],[1.5,.275],[1.54,.268],[1.58,.261],[1.51,.254],[1.55,.247],[1.59,.24],[1.53,.232],[1.57,.225],[1.55,.215],[1.52,.3],[1.56,.33],[1.59,.27],[1.51,.28],
[1.58,.25],[1.51,.259],[1.56,.268],[1.53,.277],[1.59,.286],[1.54,.295],[1.5,.304],[1.57,.313],[1.52,.322],[1.55,.331],[1.58,.34],[1.51,.349],[1.56,.358],[1.53,.367],
[1.65,.491],[1.62,.455],[1.66,.43],[1.61,.42],[1.64,.41],[1.68,.4],[1.62,.39],[1.66,.38],[1.69,.372],[1.63,.365],[1.67,.358],[1.6,.35],[1.65,.343],[1.69,.336],[1.62,.329],[1.66,.322],[1.6,.315],[1.64,.308],[1.68,.301],[1.61,.294],[1.65,.287],[1.69,.28],[1.63,.273],[1.67,.266],[1.61,.259],[1.64,.252],[1.68,.245],[1.67,.23],[1.7,.245],[1.62,.238],[1.66,.3],[1.63,.32],[1.68,.35],[1.61,.27],
[1.68,.254],[1.61,.263],[1.66,.272],[1.63,.281],[1.69,.29],[1.64,.299],[1.6,.308],[1.67,.317],[1.62,.326],[1.65,.335],[1.68,.344],[1.61,.353],[1.66,.362],[1.63,.371],
[1.69,.428],[1.72,.432],[1.74,.409],[1.71,.464],[1.72,.471],[1.78,.462],[1.79,.474],[1.7,.23],[1.79,.241],[1.73,.39],[1.77,.38],[1.71,.37],[1.75,.362],[1.79,.355],[1.72,.347],[1.76,.34],[1.7,.333],[1.74,.326],[1.78,.319],[1.71,.312],[1.75,.305],[1.79,.298],[1.73,.291],[1.77,.284],[1.71,.277],[1.75,.27],[1.79,.263],[1.72,.256],[1.76,.249],[1.74,.24],[1.78,.3],[1.73,.35],[1.76,.32],[1.72,.28],
[1.78,.256],[1.71,.265],[1.76,.274],[1.73,.283],[1.79,.292],[1.74,.301],[1.7,.31],[1.77,.319],[1.72,.328],[1.75,.337],[1.78,.346],[1.71,.355],[1.76,.364],[1.73,.373],
[1.82,.447],[1.83,.413],[1.85,.397],[1.82,.245],[1.83,.385],[1.87,.375],[1.81,.367],[1.85,.36],[1.89,.352],[1.82,.345],[1.86,.338],[1.8,.331],[1.84,.324],[1.88,.317],[1.81,.31],[1.85,.303],[1.89,.296],[1.83,.289],[1.87,.282],[1.8,.275],[1.84,.268],[1.88,.261],[1.82,.254],[1.86,.25],[1.89,.27],[1.84,.31],[1.87,.34],[1.81,.29],
[1.88,.258],[1.81,.267],[1.86,.276],[1.83,.285],[1.89,.294],[1.84,.303],[1.8,.312],[1.87,.321],[1.82,.33],[1.85,.339],[1.88,.348],[1.81,.357],[1.86,.366],[1.83,.375],
[1.92,.416],[1.93,.42],[1.97,.443],[1.99,.432],[1.98,.409],[1.93,.241],[1.96,.264],[1.91,.39],[1.95,.38],[1.99,.37],[1.92,.362],[1.96,.355],[1.9,.347],[1.94,.34],[1.98,.333],[1.91,.326],[1.95,.319],[1.99,.312],[1.93,.305],[1.97,.298],[1.91,.291],[1.95,.284],[1.99,.277],[1.92,.27],[1.96,.258],[1.94,.3],[1.98,.35],[1.9,.26],
[1.98,.262],[1.91,.271],[1.96,.28],[1.93,.289],[1.99,.298],[1.94,.307],[1.9,.316],[1.97,.325],[1.92,.334],[1.95,.343],[1.98,.352],[1.91,.361],[1.96,.37],
[2.0,.481],[2.09,.485],[2.05,.416],[2.02,.268],[2.08,.283],[2.03,.39],[2.07,.38],[2.01,.37],[2.05,.362],[2.09,.355],[2.02,.347],[2.06,.34],[2.0,.333],[2.04,.326],[2.08,.319],[2.01,.312],[2.05,.305],[2.09,.298],[2.03,.291],[2.07,.3],[2.04,.35],[2.06,.32],
[2.08,.275],[2.01,.284],[2.06,.293],[2.03,.302],[2.09,.311],[2.04,.32],[2.0,.329],[2.07,.338],[2.02,.355],[2.05,.372],
[2.12,.418],[2.18,.449],[2.16,.436],[2.23,.418],[2.24,.401],[2.36,.403],[2.5,.432],[2.35,.313],[2.31,.342],[2.25,.359],[2.27,.336],[2.26,.304],[2.24,.294],[2.13,.29],[2.12,.37],[2.15,.36],[2.18,.35],[2.11,.34],[2.14,.33],[2.17,.32],[2.2,.34],[2.22,.33],[2.19,.31],[2.21,.36],[2.13,.31],[2.16,.3],[2.23,.35],[2.1,.38],[2.2,.3]
];

// ---------- panel b : CV > 0.5 (red) ----------
const cvHigh = [
[0,.876],[.29,.834],[.54,.821],[.6,.729],[.61,.716],[.63,.704],[.67,.687],[.73,.773],[.78,.783],[.82,.775],[.84,.723],[.69,.573],[.86,.542],[.88,.554],[.92,.59],[.93,.754],[.93,.722],[.91,.708],[1.0,.6],[1.05,.737],[1.08,.746],[1.1,.751],[1.09,.691],[1.18,.688],[1.2,.645],[1.25,.727],[1.29,.729],[1.29,.638],[1.3,.567],[1.31,.572],[1.34,.554],[1.35,.693],[1.36,.659],[1.38,.664],[1.38,.653],[1.34,.638],[1.43,.644],[1.45,.626],[1.46,.627],[1.43,.592],[1.55,.659],[1.56,.634],[1.57,.626],[1.6,.638],[1.58,.596],[1.61,.596],[1.61,.552],[1.63,.552],[1.62,.551],[1.75,.583],[1.79,.578],[1.79,.638],[1.83,.548],[1.84,.532],[1.83,.519],[1.88,.554],[1.89,.531],[1.97,.514],[2.03,.518]
];

// ---------- panel b : fitted lines and threshold ----------
const fitLow = [[-0.1, 0.240], [2.6, 0.366]];
const fitHigh = [[-0.1, 0.851], [2.6, 0.446]];
const threshold = [[-0.1, 0.5], [2.6, 0.5]];

// ---------- chart ----------
const FONT = "'Liberation Sans', Arial, sans-serif";
const FS = 27;
const txt = {fontSize: FS, fontFamily: FONT, color: '#000'};
const ICON = 'path://M0,5.75H53V7.25H0Z M20,6.5A6.5,6.5,0,1,0,33,6.5A6.5,6.5,0,1,0,20,6.5Z';

function xAxis(gi, nameGap) {
  return {
    type: 'value', gridIndex: gi, min: -0.1, max: 2.6,
    splitLine: {show: false}, axisLine: {show: false, onZero: false},
    axisTick: {show: true, customValues: xTicks, length: 10, lineStyle: {color: '#333', width: 1}},
    axisLabel: Object.assign({customValues: xTicks, formatter: v => v.toFixed(1), margin: 12}, txt),
    name: "Shannon's Index", nameLocation: 'middle', nameGap: nameGap, nameTextStyle: txt
  };
}
function yAxis(gi, min, max, ticks, dec) {
  return {
    type: 'value', gridIndex: gi, min: min, max: max,
    splitLine: {show: false}, axisLine: {show: false, onZero: false},
    axisTick: {show: true, customValues: ticks, length: 10, lineStyle: {color: '#333', width: 1}},
    axisLabel: Object.assign({customValues: ticks, formatter: v => v.toFixed(dec), rotate: 90, margin: 22}, txt),
    name: 'Coefficient of Variation', nameLocation: 'middle', nameGap: 68, nameTextStyle: txt
  };
}
function legend(names, left, top, pad) {
  return {
    orient: 'vertical', left: left, top: top, selectedMode: false,
    data: names.map(n => ({name: n, icon: ICON})),
    itemWidth: 53, itemHeight: 13, itemGap: 4,
    padding: pad, backgroundColor: '#fff', borderColor: '#333', borderWidth: 1, borderRadius: 0,
    textStyle: Object.assign({lineHeight: 30, padding: [0, 0, 0, 20]}, txt)
  };
}
function scatter(name, data, color, xi, yi, size) {
  return {type: 'scatter', name: name, data: data, xAxisIndex: xi, yAxisIndex: yi,
    symbol: 'circle', symbolSize: size, itemStyle: {color: color, opacity: 1}, silent: true, z: 2};
}
function fit(data, color, width, xi, yi, dash) {
  return {type: 'line', data: data, xAxisIndex: xi, yAxisIndex: yi, showSymbol: false, symbol: 'none',
    lineStyle: {color: color, width: width, type: dash || 'solid'}, silent: true, z: 3};
}

const chart = echarts.init(document.getElementById('c'), null, {renderer: 'canvas'});
chart.setOption({
  animation: false,
  backgroundColor: '#fff',
  grid: [
    {left: 105.4, top: 7, width: 744.2, height: 472, show: true, borderColor: '#333', borderWidth: 1, backgroundColor: 'transparent'},
    {left: 105.4, top: 597.5, width: 744.2, height: 472, show: true, borderColor: '#333', borderWidth: 1, backgroundColor: 'transparent'}
  ],
  xAxis: [xAxis(0, 67), xAxis(1, 62)],
  yAxis: [yAxis(0, 0.098, 0.2692, yTicksA, 2), yAxis(1, -0.04, 1.04, yTicksB, 1)],
  legend: [
    legend(legendA, 612, 377, [21, 60, 17, 6]),
    legend(legendB, 641, 598, [20, 60, 17, 7])
  ],
  graphic: [
    {type: 'text', x: 160, y: 58.5, style: {text: 'a', fontSize: FS, fontFamily: FONT, fill: '#000', align: 'center', verticalAlign: 'middle'}},
    {type: 'text', x: 160, y: 638.5, style: {text: 'b', fontSize: FS, fontFamily: FONT, fill: '#000', align: 'center', verticalAlign: 'middle'}}
  ],
  series: [
    scatter(legendA[0], vnirA, '#000000', 0, 0, 10),
    scatter(legendA[1], fullA, '#ff0000', 0, 0, 10),
    fit(fitVnirA, '#000000', 1, 0, 0),
    fit(fitFullA, '#ff0000', 1, 0, 0),
    scatter(legendB[0], cvLow, '#000000', 1, 1, 9.5),
    scatter(legendB[1], cvHigh, '#ff0000', 1, 1, 9.5),
    fit(fitLow, '#000000', 2, 1, 1),
    fit(fitHigh, '#ff0000', 2, 1, 1),
    fit(threshold, '#0000ff', 2.5, 1, 1, [9, 6])
  ]
});
</script>
</body></html>
